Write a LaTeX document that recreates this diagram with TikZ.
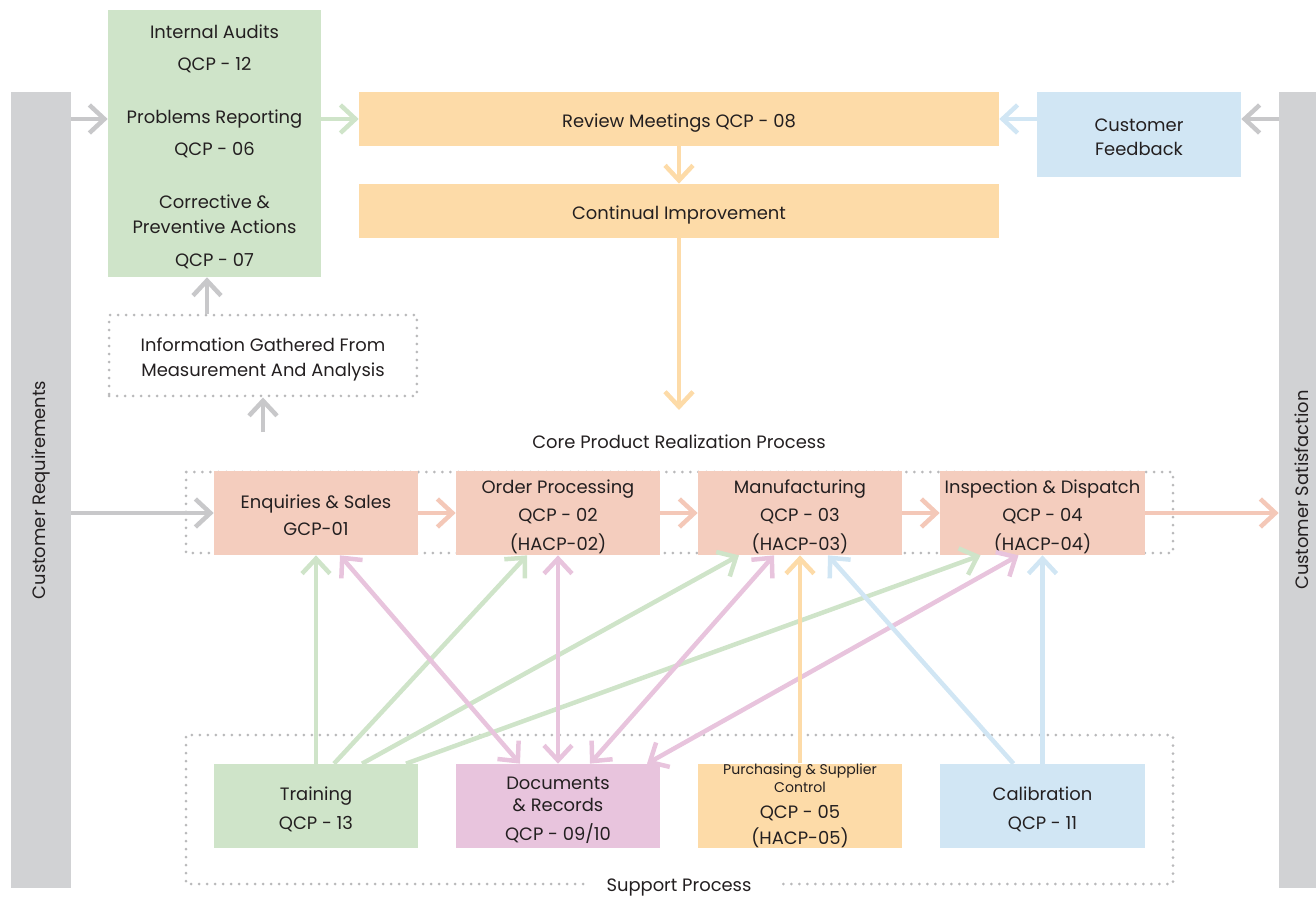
\documentclass[tikz,border=0pt]{standalone}
\usepackage{fontspec}
\setmainfont{Poppins}
\usetikzlibrary{arrows.meta,calc}

\definecolor{qgreen}{RGB}{207,228,201}
\definecolor{qorange}{RGB}{253,219,168}
\definecolor{qblue}{RGB}{209,230,244}
\definecolor{qsalmon}{RGB}{244,205,190}
\definecolor{qsalarr}{RGB}{244,200,184}
\definecolor{qpink}{RGB}{232,196,221}
\definecolor{qgray}{RGB}{209,210,212}
\definecolor{qgrayarr}{RGB}{200,200,202}
\definecolor{qdot}{RGB}{185,185,187}
\definecolor{qtext}{RGB}{35,31,32}

\newcommand{\qfont}{\fontsize{10.2}{14.2}\selectfont}
\newcommand{\qsmall}{\fontsize{8}{10}\selectfont}
\newcommand{\qtop}{\rule{0pt}{0.44cm}}

\tikzset{
  qbox/.style={minimum width=4.08cm, minimum height=1.68cm, inner sep=0pt, align=center, text=qtext, font=\qfont,
    execute at end node={\rule[-0.08cm]{0pt}{0pt}}},
  bar/.style={fill=qgray, minimum width=1.2cm, minimum height=15.92cm, inner sep=0pt, text=qtext, font=\qfont},
  dotline/.style={draw=qdot, line width=0.06cm, dash pattern=on 0pt off 0.16cm, line cap=round},
  arr/.style={-{Straight Barb[length=0.3cm, width=0.56cm]}, line width=0.09cm},
  darr/.style={{Straight Barb[length=0.3cm, width=0.56cm]}-{Straight Barb[length=0.3cm, width=0.56cm]}, line width=0.09cm}
}

\begin{document}
\begin{tikzpicture}[x=0.02cm,y=-0.02cm]
\useasboundingbox (0,0) rectangle (1316,902);

\node (LB) [bar] at (41,490) {\rotatebox{90}{Customer Requirements}};
\node (RB) [bar, minimum width=0.92cm] at (1302,490) {\rotatebox{90}{Customer Satisfaction}};

% top part
\node (QA) [qbox, fill=qgreen, minimum width=4.26cm, minimum height=5.34cm] at (214.5,143.5) {\qtop Internal Audits\\[0.14cm] QCP - 12\\[0.56cm] Problems Reporting\\[0.14cm] QCP - 06\\[0.56cm] Corrective \&\\ Preventive Actions\\[0.16cm] QCP - 07};
\node (RM) [qbox, fill=qorange, minimum width=12.8cm, minimum height=1.08cm] at (679,119) {\qtop Review Meetings QCP - 08};
\node (CI) [qbox, fill=qorange, minimum width=12.8cm, minimum height=1.08cm] at (679,211) {\qtop Continual Improvement};
\node (CF) [qbox, fill=qblue, minimum height=1.7cm] at (1139,134.5) {\qtop Customer\\Feedback};
\node (II) [qbox, dotline, minimum width=6.16cm, minimum height=1.62cm] at (263,355.5) {\qtop Information Gathered From\\Measurement And Analysis};
\node (CPL) [text=qtext, font=\qfont] at (679,442) {Core Product Realization Process};
\coordinate (cp) at (679,410);
\coordinate (ms) at (263,432);
\coordinate (ia) at (207,0);

% core process
\draw[dotline] (186,472) rectangle (1173,553);
\node (ES) [qbox, fill=qsalmon] at (316,513) {\qtop Enquiries \& Sales\\[0.06cm] GCP-01};
\node (OP) [qbox, fill=qsalmon] at (558,513) {\qtop Order Processing\\[0.07cm] QCP - 02\\[0.07cm] (HACP-02)};
\node (MF) [qbox, fill=qsalmon] at (800,513) {\qtop Manufacturing\\[0.07cm] QCP - 03\\[0.07cm] (HACP-03)};
\node (IN) [qbox, fill=qsalmon, minimum width=4.1cm] at (1042.5,513) {\qtop Inspection \& Dispatch\\[0.07cm] QCP - 04\\[0.07cm] (HACP-04)};

% support process
\draw[dotline] (583,884) -| (186,735) -| (1173,884) -- (777,884);
\node (SP) [text=qtext, font=\qfont] at (679,887) {Support Process};
\node (TR) [qbox, fill=qgreen] at (316,806) {\qtop Training\\[0.08cm] QCP - 13};
\node (DR) [qbox, fill=qpink] at (558,806) {\qtop Documents\\[-0.06cm] \& Records\\[0.1cm] QCP - 09/10};
\node (PS) [qbox, fill=qorange, execute at end node={}] at (800,806) {{\qsmall Purchasing \& Supplier}\\[-0.14cm] {\qsmall Control}\\[0.02cm] QCP - 05\\[0.02cm] \smash{(HACP-05)}};
\node (CA) [qbox, fill=qblue, minimum width=4.1cm] at (1042.5,806) {\qtop Calibration\\[0.08cm] QCP - 11};

% arrows top
\draw[arr, qgrayarr] (LB.east |- RM) -- (QA.west |- RM);
\draw[arr, qgreen] (QA.east |- RM) -- (RM.west);
\draw[arr, qgrayarr] (RB.west |- RM) -- (CF.east |- RM);
\draw[arr, qblue] (CF.west |- RM) -- (RM.east);
\draw[arr, qorange] (RM) -- (CI);
\draw[arr, qorange] (CI) -- (cp);
\draw[arr, qgrayarr] (II.north -| ia) -- (QA.south -| ia);
\draw[arr, qgrayarr] (ms) -- (II);

% arrows core
\draw[arr, qgrayarr] (LB.east |- ES) -- (ES);
\draw[arr, qsalarr] (ES) -- (OP);
\draw[arr, qsalarr] (OP) -- (MF);
\draw[arr, qsalarr] (MF) -- (IN);
\draw[arr, qsalarr] (IN) -- (RB.west |- IN);

% arrows support
\draw[arr, qgreen] (TR) -- (ES);
\draw[arr, qgreen] ($(TR.north)+(18,0)$) -- ($(OP.south)+(-31,0)$);
\draw[arr, qgreen] ($(TR.north)+(46,0)$) -- ($(MF.south)+(-61,0)$);
\draw[arr, qgreen] ($(TR.north)+(90,0)$) -- ($(IN.south)+(-62,0)$);
\draw[darr, qpink] ($(ES.south)+(24,0)$) -- ($(DR.north)+(-38,0)$);
\draw[darr, qpink] (OP) -- (DR);
\draw[darr, qpink] ($(DR.north)+(32,0)$) -- ($(MF.south)+(-26,0)$);
\draw[darr, qpink] ($(DR.north)+(89,0)$) -- ($(IN.south)+(-24,0)$);
\draw[arr, qorange] (PS) -- (MF);
\draw[arr, qblue] ($(CA.north)+(-29,0)$) -- ($(MF.south)+(28,0)$);
\draw[arr, qblue] (CA) -- (IN);
%\draw[arr, qgrayarr] (SP) -- (DR);
\end{tikzpicture}
\end{document}
